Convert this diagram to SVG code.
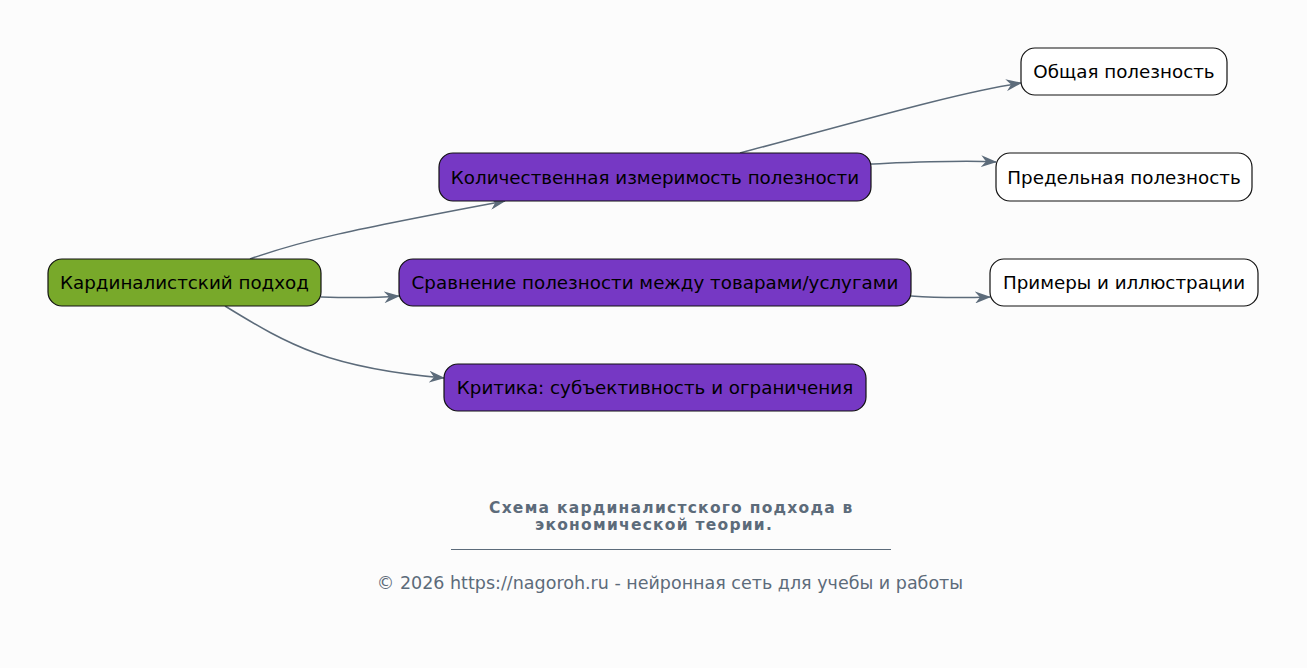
<svg xmlns="http://www.w3.org/2000/svg" width="1307" height="668" viewBox="0 0 1307 668">
<style>
.n rect{stroke:#111;stroke-width:1.2}
.g rect{fill:#78a92a}
.p rect{fill:#7638c4}
.w rect{fill:#fff}
.n text{font-family:"DejaVu Sans",sans-serif;font-size:18.3px;fill:#000;text-anchor:middle;dominant-baseline:central}
.e path{fill:none;stroke:#5c6b7a;stroke-width:1.5}
.t{font-family:"DejaVu Sans",sans-serif;fill:#5c6b7a}
.h{font-size:15.5px;font-weight:bold;letter-spacing:1.25px}
</style>
<defs>
<marker id="a" viewBox="0 0 16 12" refX="15" refY="6" markerWidth="16" markerHeight="12" markerUnits="userSpaceOnUse" orient="auto">
<path d="M0,0 L16,6 L0,12 L5,6 z" fill="#5c6b7a"/>
</marker>
</defs>
<rect width="1307" height="668" fill="#fcfcfc"/>
<g class="e">
<path d="M250,259 C300,241 350,230 505,201" marker-end="url(#a)"/>
<path d="M321,297 C350,298 375,298 399,296" marker-end="url(#a)"/>
<path d="M225,306 C290,346 330,368 444,378" marker-end="url(#a)"/>
<path d="M740,153 C860,121 960,92 1021,83" marker-end="url(#a)"/>
<path d="M871,164 C920,162 960,160 996,162" marker-end="url(#a)"/>
<path d="M911,296 C940,298 960,298 990,297" marker-end="url(#a)"/>
</g>
<g id="n1" class="n g"><rect x="48" y="259" width="273" height="47" rx="14"/><text x="184.5" y="282.5">Кардиналистский подход</text></g>
<g id="n2" class="n p"><rect x="439" y="153" width="432" height="48" rx="14"/><text x="655" y="177">Количественная измеримость полезности</text></g>
<g id="n3" class="n p"><rect x="399" y="259" width="512" height="47" rx="14"/><text x="655" y="282.5">Сравнение полезности между товарами/услугами</text></g>
<g id="n4" class="n p"><rect x="444" y="364" width="422" height="47" rx="14"/><text x="655" y="387.5">Критика: субъективность и ограничения</text></g>
<g id="n5" class="n w"><rect x="1021" y="48" width="206" height="47" rx="14"/><text x="1124" y="71.5">Общая полезность</text></g>
<g id="n6" class="n w"><rect x="996" y="153" width="256" height="48" rx="14"/><text x="1124" y="177">Предельная полезность</text></g>
<g id="n7" class="n w"><rect x="990" y="259" width="268" height="47" rx="14"/><text x="1124" y="282.5">Примеры и иллюстрации</text></g>
<g id="caption">
<text class="t h" x="489" y="512.5">Схема кардиналистского подхода в</text>
<text class="t h" x="535" y="529.5">экономической теории.</text>
<line x1="451" y1="549.5" x2="891" y2="549.5" stroke="#5c6b7a" stroke-width="1"/>
<text class="t" x="670" y="589" font-size="17.5" text-anchor="middle">© 2026 https://nagoroh.ru - нейронная сеть для учебы и работы</text>
</g>
</svg>
